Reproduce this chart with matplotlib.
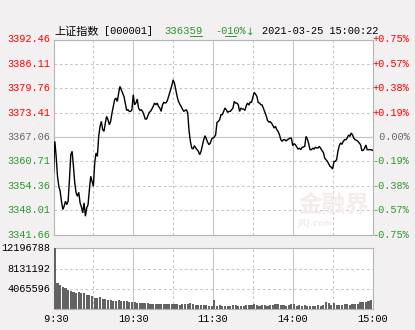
import matplotlib
matplotlib.use('Agg')
import matplotlib.pyplot as plt
import matplotlib.transforms as mtransforms
from matplotlib.lines import Line2D
import numpy as np

# ---------------- data ----------------
prev_close = 3367.06
price_ticks = [3341.66, 3348.01, 3354.36, 3360.71, 3367.06, 3373.41, 3379.76, 3386.11, 3392.46]
pct_labels = ['-0.75%', '-0.57%', '-0.38%', '-0.19%', '0.00%', '+0.19%', '+0.38%', '+0.57%', '+0.75%']
vol_ticks = [4065596, 8131192, 12196788]
vol_tick_labels = ['4065596', '8131192', '12196788']
time_labels = [' 9:30', '10:30', '11:30', '14:00', '15:00']
time_label_minutes = [0, 60, 120, 180, 240]

# one price per trading minute (9:30-11:30, 13:01-15:00)
prices = [
    3357.69, 3365.93, 3362.03, 3356.83, 3354.22, 3352.92, 3350.32, 3348.16, 3349.02, 3350.32,
    3349.46, 3350.32, 3355.96, 3362.46, 3363.33, 3359.43, 3355.09, 3352.49, 3351.62, 3352.66,
    3349.89, 3348.85, 3347.29, 3349.89, 3346.42, 3348.59, 3349.46, 3353.36, 3356.83, 3355.53,
    3354.22, 3360.29, 3362.89, 3362.03, 3367.23, 3369.83, 3371.13, 3368.96, 3368.53, 3370.70,
    3372.43, 3371.56, 3370.26, 3371.13, 3373.30, 3375.03, 3376.77, 3377.20, 3376.33, 3378.50,
    3380.23, 3379.37, 3378.50, 3377.63, 3375.90, 3373.99, 3374.17, 3373.73, 3373.73, 3374.17,
    3378.07, 3375.47, 3375.90, 3376.94, 3374.60, 3373.99, 3374.17, 3373.73, 3372.87, 3371.74,
    3371.74, 3372.61, 3373.47, 3373.73, 3374.34, 3375.03, 3375.90, 3375.47, 3375.90, 3375.03,
    3374.60, 3373.73, 3375.47, 3376.07, 3375.90, 3376.07, 3376.94, 3378.07, 3379.19, 3380.41,
    3381.97, 3381.10, 3379.37, 3377.63, 3376.33, 3375.64, 3375.03, 3374.34, 3373.73, 3373.99,
    3374.17, 3373.30, 3368.53, 3365.93, 3364.20, 3363.94, 3364.80, 3364.20, 3363.76, 3363.33,
    3362.46, 3363.33, 3364.80, 3366.36, 3367.40, 3366.54, 3365.67, 3365.06, 3365.50, 3366.54,
    3366.80, 3367.06, 3367.66, 3370.87, 3371.13, 3371.56, 3372.87, 3372.87, 3373.73, 3374.60,
    3374.17, 3373.47, 3373.73, 3373.73, 3374.17, 3374.60, 3376.33, 3375.90, 3375.90, 3375.47,
    3373.73, 3374.60, 3374.34, 3374.34, 3373.99, 3375.21, 3375.90, 3375.38, 3376.16, 3376.07,
    3377.46, 3378.67, 3378.24, 3377.63, 3376.07, 3375.90, 3375.47, 3375.38, 3374.43, 3373.56,
    3372.61, 3371.39, 3370.96, 3371.04, 3370.70, 3370.09, 3369.40, 3369.83, 3368.96, 3368.53,
    3367.66, 3366.36, 3365.93, 3366.36, 3366.36, 3366.02, 3366.36, 3366.54, 3366.80, 3366.71,
    3364.80, 3365.32, 3365.06, 3364.46, 3363.94, 3364.11, 3363.76, 3364.37, 3364.46, 3364.63,
    3367.23, 3366.54, 3365.32, 3363.76, 3363.76, 3364.11, 3363.94, 3364.37, 3364.20, 3364.20,
    3364.63, 3364.11, 3363.50, 3363.07, 3361.59, 3361.16, 3360.73, 3360.12, 3359.43, 3359.17,
    3358.73, 3360.64, 3360.73, 3361.16, 3363.33, 3364.80, 3365.50, 3365.15, 3365.93, 3366.36,
    3366.36, 3366.80, 3367.58, 3367.23, 3368.10, 3367.58, 3366.71, 3366.36, 3366.19, 3365.93,
    3365.50, 3365.06, 3363.50, 3363.59, 3364.11, 3364.98, 3363.76, 3363.76, 3363.76, 3363.76,
    3363.59,
]

# volume bars, one per two minutes (millions of shares)
volumes_m = [
    12.196788, 5.2, 4.8, 4.5, 4.2, 3.9, 3.6, 3.4, 3.2, 3.5,
    3.2, 3.3, 2.9, 2.8, 2.7, 2.3, 2.2, 2.4, 2.0, 2.0,
    1.9, 1.8, 1.7, 1.7, 1.9, 1.6, 1.7, 1.6, 1.5, 1.45,
    1.4, 1.3, 1.2, 1.3, 1.2, 1.2, 1.1, 1.1, 1.15, 1.05,
    1.05, 1.0, 1.05, 1.0, 1.0, 1.0, 1.0, 0.95, 1.0, 1.0,
    1.0, 1.25, 1.15, 0.95, 0.85, 0.95, 0.8, 0.8, 0.75, 0.6,
    1.87, 0.73, 0.87, 0.73, 0.73, 0.73, 0.73, 0.87, 0.87, 0.73,
    0.73, 0.73, 0.87, 0.87, 0.87, 1.07, 0.87, 0.73, 0.87, 0.87,
    0.73, 0.87, 0.87, 1.0, 1.0, 0.87, 0.87, 0.73, 0.87, 1.07,
    1.0, 0.73, 0.87, 0.73, 0.87, 0.73, 0.73, 0.73, 0.73, 0.87,
    0.73, 0.87, 1.4, 1.2, 0.87, 1.2, 0.87, 0.87, 0.87, 1.0,
    1.0, 0.87, 1.13, 1.07, 1.13, 1.4, 1.4, 1.53, 1.67, 1.87,
]

# ---------------- style ----------------
W, H = 415, 330
BG = '#f2f0f0'
RED = '#ff0000'
GREEN = '#2e962e'
GRAYTXT = '#666666'
GRID = '#c4c4c4'
SPINE = '#b4b4b4'
MONO = ['Liberation Mono', 'DejaVu Sans Mono']
FS = 7.4

fig = plt.figure(figsize=(W / 100, H / 100), dpi=100, facecolor=BG)

def fx(px):
    return px / W

def fy(py):
    return 1 - py / H

L, R = 53.5, 372.5
ax = fig.add_axes([fx(L), fy(234.5), fx(R - L), (234.5 - 39.5) / H])
axv = fig.add_axes([fx(L), fy(309.3), fx(R - L), (309.3 - 248.3) / H])

minutes = np.arange(len(prices))
for a in (ax, axv):
    a.set_facecolor('white')
    a.set_xlim(0, 240)
    a.set_xticks([])
    a.set_yticks([])
    for s in a.spines.values():
        s.set_color(SPINE)
        s.set_linewidth(0.8)
    for m in range(30, 240, 30):
        if m % 60 == 0:
            a.axvline(m, color=GRID, lw=0.8, zorder=1)
        else:
            a.axvline(m, color=GRID, lw=0.75, ls=(0, (2.5, 2.5)), zorder=1)

ax.set_ylim(price_ticks[0], price_ticks[-1])
for p in price_ticks[1:-1]:
    if p == prev_close:
        ax.axhline(p, color=GRID, lw=0.9, zorder=1)
    else:
        ax.axhline(p, color=GRID, lw=0.75, ls=(0, (2.5, 2.5)), zorder=1)

# watermark
ax.text(0.88, 0.15, '金融界', transform=ax.transAxes, ha='center', va='center',
        fontsize=17, fontweight='bold', color='#f5ebeb', family=['Noto Sans CJK SC'],
        zorder=2, clip_on=True)
ax.text(0.82, 0.055, 'JRJ.com', transform=ax.transAxes, ha='center', va='center',
        fontsize=6, fontweight='bold', color='#f5ebeb', zorder=2, clip_on=True)

ax.plot(minutes, prices, color='black', lw=1.0, zorder=5, solid_joinstyle='miter')

# volume
axv.set_ylim(0, vol_ticks[-1])
for v in vol_ticks[:-1]:
    axv.axhline(v, color=GRID, lw=0.75, ls=(0, (2.5, 2.5)), zorder=1)
bar_x = np.arange(len(volumes_m)) * 2 + 1
axv.bar(bar_x, np.array(volumes_m) * 1e6, width=1.6, color='#636363', zorder=3,
        linewidth=0, antialiased=False)

# left/right price labels
tl = mtransforms.blended_transform_factory(fig.transFigure, ax.transData)
for p, lab in zip(price_ticks, pct_labels):
    if p > prev_close:
        c = RED
    elif p < prev_close:
        c = GREEN
    else:
        c = GRAYTXT
    fig.text(fx(50.5), p, f'{p:.2f}', transform=tl, ha='right', va='center',
             fontsize=FS, color=c, family=MONO)
    fig.text(fx(372.5), p, lab if lab != '0.00%' else ' 0.00%', transform=tl,
             ha='left', va='center', fontsize=FS, color=c, family=MONO)

tv = mtransforms.blended_transform_factory(fig.transFigure, axv.transData)
for v, lab in zip(vol_ticks, vol_tick_labels):
    fig.text(fx(50.5), v, lab, transform=tv, ha='right', va='center',
             fontsize=FS, color='black', family=MONO)

tx = mtransforms.blended_transform_factory(axv.transData, fig.transFigure)
for m, lab in zip(time_label_minutes, time_labels):
    fig.text(m, fy(319), lab, transform=tx, ha='center', va='center',
             fontsize=FS, color='black', family=MONO)

# title
ty = fy(31.5)
fig.text(fx(54), ty, '上证指数', ha='left', va='center', fontsize=8.0, color='black',
         family=['Noto Sans CJK SC', 'DejaVu Sans'])
fig.text(fx(104), ty, '[000001]', ha='left', va='center', fontsize=FS, color='black',
         family=MONO)
fig.text(fx(164), ty, '336359', ha='left', va='center', fontsize=7.7, color=GREEN,
         family=MONO)
fig.text(fx(215), ty, '-010%', ha='left', va='center', fontsize=FS, color=GREEN,
         family=MONO)
fig.text(fx(246), ty, '↓', ha='left', va='center', fontsize=FS, color=GREEN,
         family=['DejaVu Sans'])
fig.text(fx(262), ty, '2021-03-25 15:00:22', ha='left', va='center', fontsize=FS,
         color='black', family=MONO)
fig.add_artist(Line2D([fx(190), fx(201.5)], [fy(36), fy(36)], color=GREEN, lw=0.7))
fig.add_artist(Line2D([fx(225), fx(235.5)], [fy(36), fy(36)], color=GREEN, lw=0.7))

fig.savefig('out.png', dpi=100, facecolor=BG)
